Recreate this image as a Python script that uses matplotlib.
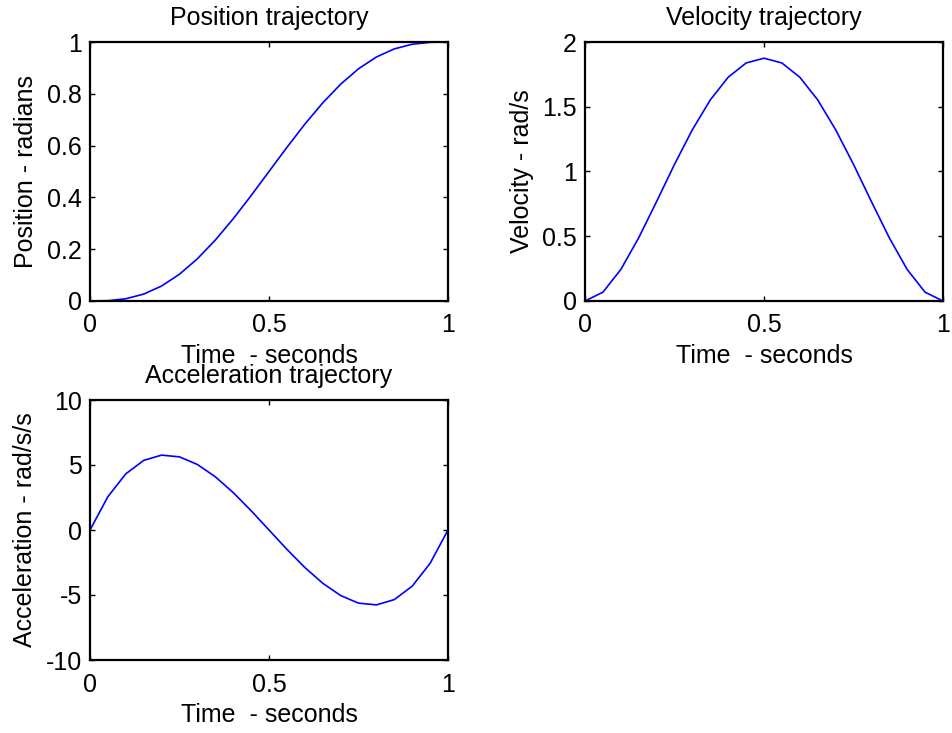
import matplotlib.pyplot as plt

plt.rcParams['font.family'] = ['Liberation Sans', 'DejaVu Sans']
plt.rcParams['font.size'] = 18

# time samples, 0.05 s apart
t = [0.0, 0.05, 0.1, 0.15, 0.2, 0.25, 0.3, 0.35, 0.4, 0.45, 0.5,
     0.55, 0.6, 0.65, 0.7, 0.75, 0.8, 0.85, 0.9, 0.95, 1.0]

position = [0.0, 0.0012, 0.0086, 0.0266, 0.0579, 0.1035, 0.1631, 0.2352, 0.3174, 0.4069, 0.5,
            0.5931, 0.6826, 0.7648, 0.8369, 0.8965, 0.9421, 0.9734, 0.9914, 0.9988, 1.0]

velocity = [0.0, 0.068, 0.243, 0.488, 0.768, 1.055, 1.323, 1.553, 1.728, 1.838, 1.875,
            1.838, 1.728, 1.553, 1.323, 1.055, 0.768, 0.488, 0.243, 0.068, 0.0]

acceleration = [0.0, 2.565, 4.32, 5.355, 5.76, 5.625, 5.04, 4.095, 2.88, 1.485, 0.0,
                -1.485, -2.88, -4.095, -5.04, -5.625, -5.76, -5.355, -4.32, -2.565, 0.0]

x_ticks = [0, 0.5, 1]
x_ticklabels = ['0', '0.5', '1']

fig = plt.figure(figsize=(9.53, 7.33), dpi=100)
fig.patch.set_facecolor('white')

W, H = 953, 733


def make_axes(left, top, right, bottom):
    return fig.add_axes([left / W, 1 - bottom / H, (right - left) / W, (bottom - top) / H])


def style(ax, title, ylabel, yticks, yticklabels, ylim):
    ax.set_xlim(0, 1)
    ax.set_ylim(*ylim)
    ax.set_xticks(x_ticks)
    ax.set_xticklabels(x_ticklabels)
    ax.set_yticks(yticks)
    ax.set_yticklabels(yticklabels)
    ax.tick_params(direction='in', length=3.5, width=1, top=True, right=True, pad=6)
    ax.tick_params(axis='x', pad=9)
    for s in ax.spines.values():
        s.set_linewidth(1.6)
    ax.set_title(title, fontsize=18, pad=12)
    ax.set_xlabel('Time  - seconds', labelpad=5)
    ax.set_ylabel(ylabel, labelpad=6)


ax1 = make_axes(90, 42, 448, 301)
ax1.plot(t, position, color='#0000ff', lw=1.2)
style(ax1, 'Position trajectory', 'Position - radians',
      [0, 0.2, 0.4, 0.6, 0.8, 1], ['0', '0.2', '0.4', '0.6', '0.8', '1'], (0, 1))

ax2 = make_axes(585, 42, 943, 301)
ax2.plot(t, velocity, color='#0000ff', lw=1.2)
style(ax2, 'Velocity trajectory', 'Velocity - rad/s',
      [0, 0.5, 1, 1.5, 2], ['0', '0.5', '1', '1.5', '2'], (0, 2))

ax3 = make_axes(90, 400, 448, 660)
ax3.plot(t, acceleration, color='#0000ff', lw=1.2)
style(ax3, 'Acceleration trajectory', 'Acceleration - rad/s/s',
      [-10, -5, 0, 5, 10], ['-10', '-5', '0', '5', '10'], (-10, 10))

fig.savefig('out.png', dpi=100)
